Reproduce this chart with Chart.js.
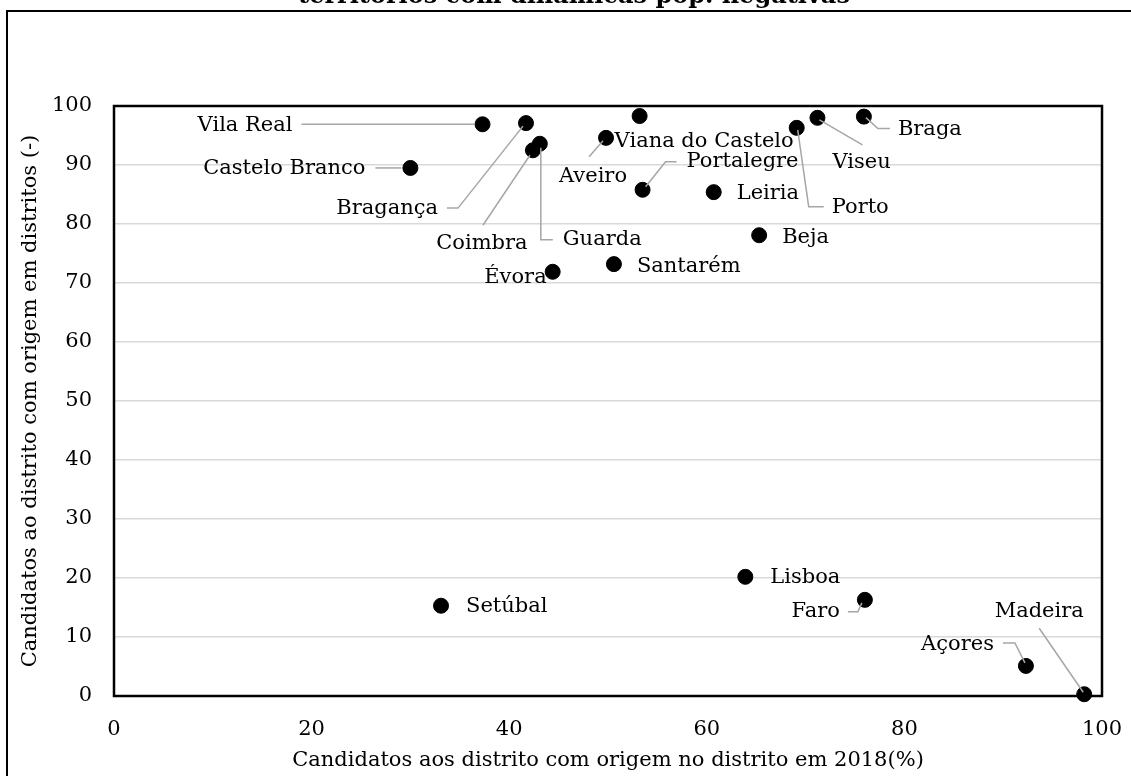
<!DOCTYPE html>
<html>
<head>
<meta charset="utf-8">
<script src="https://cdn.jsdelivr.net/npm/chart.js@4.4.1/dist/chart.umd.min.js"></script>
<style>
  html, body { margin: 0; padding: 0; background: #ffffff; }
  #wrap { position: relative; width: 1131px; height: 776px; }
</style>
</head>
<body>
<div id="wrap"><canvas id="c" width="1131" height="776"></canvas></div>
<script>
// Districts and their two shares (%)
const districts = ['Vila Real', 'Bragança', 'Coimbra', 'Guarda', 'Castelo Branco', 'Évora', 'Santarém',
  'Aveiro', 'Viana do Castelo', 'Portalegre', 'Leiria', 'Beja', 'Porto', 'Viseu', 'Braga',
  'Lisboa', 'Setúbal', 'Faro', 'Açores', 'Madeira'];
const originShare2018 = [37.3, 41.7, 42.4, 43.1, 30.0, 44.4, 50.6,
  49.8, 53.2, 53.5, 60.7, 65.3, 69.1, 71.2, 75.9,
  63.9, 33.1, 76.0, 92.3, 98.2];
const districtShare = [96.9, 97.1, 92.5, 93.6, 89.5, 71.9, 73.2,
  94.6, 98.3, 85.8, 85.4, 78.1, 96.3, 98.0, 98.2,
  20.2, 15.3, 16.3, 5.1, 0.3];
const xTicks = [0, 20, 40, 60, 80, 100];
const yTicks = [0, 10, 20, 30, 40, 50, 60, 70, 80, 90, 100];

const titleText = 'territórios com dinâmicas pop. negativas';
const xTitle = 'Candidatos aos distrito com origem no distrito em 2018(%)';
const yTitle = 'Candidatos ao distrito com origem em distritos (-)';

const FONT = '"DejaVu Serif", Georgia, serif';

// Label placement for each district: text offset from the marker (px),
// text alignment, and an optional leader polyline (offsets from the marker).
const labelLayout = {
  'Vila Real':        { dx: -190, dy: 1,   align: 'right',  leader: [[-181, 0], [-8, 0]] },
  'Castelo Branco':   { dx: -45,  dy: 1,   align: 'right',  leader: [[-35, 0], [-9, 0]] },
  'Bragança':         { dx: -88,  dy: 85,  align: 'right',  leader: [[-79, 85], [-68, 85], [-3, 3]] },
  'Coimbra':          { dx: -51,  dy: 93,  align: 'center', leader: [[-50, 75], [-3, 5]] },
  'Guarda':           { dx: 23,   dy: 96,  align: 'left',   leader: [[13, 96], [1, 96], [1, 4]] },
  'Évora':            { dx: -6,   dy: 6,   align: 'right' },
  'Santarém':         { dx: 23,   dy: 2,   align: 'left' },
  'Aveiro':           { dx: -13,  dy: 39,  align: 'center', leader: [[-17, 19], [-3, 3]] },
  'Viana do Castelo': { dx: -25,  dy: 26,  align: 'left' },
  'Portalegre':       { dx: 44,   dy: -28, align: 'left',   leader: [[34, -28], [23, -28], [3, -3]] },
  'Leiria':           { dx: 23,   dy: 1,   align: 'left' },
  'Beja':             { dx: 23,   dy: 2,   align: 'left' },
  'Porto':            { dx: 35,   dy: 80,  align: 'left',   leader: [[27, 79], [12, 79], [1, 2]] },
  'Viseu':            { dx: 15,   dy: 45,  align: 'left',   leader: [[45, 27], [2, 2]] },
  'Braga':            { dx: 34,   dy: 13,  align: 'left',   leader: [[26, 12], [14, 12], [2, 1]] },
  'Lisboa':           { dx: 25,   dy: 1,   align: 'left' },
  'Setúbal':          { dx: 25,   dy: 1,   align: 'left' },
  'Faro':             { dx: -25,  dy: 12,  align: 'right',  leader: [[-17, 12], [-7, 12], [-3, 3]] },
  'Açores':           { dx: -32,  dy: -21, align: 'right',  leader: [[-23, -23], [-11, -23], [-1, -3]] },
  'Madeira':          { dx: -45,  dy: -83, align: 'center', leader: [[-45, -66], [-1, -2]] }
};

const points = originShare2018.map((x, i) => ({ x: x, y: districtShare[i] }));

// Outer frame, clipped title and the plot-area box
const framePlugin = {
  id: 'frame',
  beforeDraw(chart) {
    const ctx = chart.ctx;
    ctx.save();
    ctx.fillStyle = '#ffffff';
    ctx.fillRect(0, 0, chart.width, chart.height);
    ctx.strokeStyle = '#000000';
    ctx.lineWidth = 2;
    ctx.strokeRect(7, 11, chart.width + 20, chart.height + 20);
    ctx.fillStyle = '#000000';
    ctx.font = 'bold 24px ' + FONT;
    ctx.textAlign = 'center';
    ctx.textBaseline = 'alphabetic';
    ctx.fillText(titleText, 574, 3);
    ctx.restore();
  },
  beforeDatasetsDraw(chart) {
    const a = chart.chartArea;
    const ctx = chart.ctx;
    ctx.save();
    ctx.strokeStyle = '#000000';
    ctx.lineWidth = 2.5;
    ctx.strokeRect(a.left, a.top, a.right - a.left, a.bottom - a.top);
    ctx.restore();
  }
};

// District names beside the markers, with grey leader lines
const labelPlugin = {
  id: 'districtLabels',
  afterDatasetsDraw(chart) {
    const ctx = chart.ctx;
    const meta = chart.getDatasetMeta(0);
    ctx.save();
    meta.data.forEach((el, i) => {
      const name = districts[i];
      const L = labelLayout[name];
      if (!L) return;
      const px = el.x, py = el.y;
      if (L.leader) {
        ctx.beginPath();
        ctx.strokeStyle = '#a6a6a6';
        ctx.lineWidth = 1.5;
        L.leader.forEach((p, k) => {
          if (k === 0) ctx.moveTo(px + p[0], py + p[1]);
          else ctx.lineTo(px + p[0], py + p[1]);
        });
        ctx.stroke();
      }
      ctx.fillStyle = '#000000';
      ctx.font = '21px ' + FONT;
      ctx.textAlign = L.align;
      ctx.textBaseline = 'middle';
      ctx.fillText(name, px + L.dx, py + L.dy);
    });
    ctx.restore();
  }
};

new Chart(document.getElementById('c'), {
  type: 'scatter',
  data: {
    datasets: [{
      data: points,
      backgroundColor: '#000000',
      borderColor: '#000000',
      pointRadius: 7.5,
      pointHoverRadius: 7.5,
      clip: false
    }]
  },
  options: {
    responsive: false,
    animation: false,
    events: [],
    layout: { padding: { left: 0, right: 29, top: 106, bottom: 0 } },
    plugins: { legend: { display: false }, tooltip: { enabled: false }, title: { display: false } },
    scales: {
      x: {
        type: 'linear', min: 0, max: 100,
        afterBuildTicks(scale) { scale.ticks = xTicks.map(v => ({ value: v })); },
        afterFit(scale) { scale.height = 80; scale.paddingLeft = 0; scale.paddingRight = 0; },
        border: { display: false },
        grid: { display: false, drawTicks: false },
        ticks: { color: '#000000', font: { family: FONT, size: 21 }, padding: 21, maxRotation: 0 },
        title: { display: true, text: xTitle, color: '#000000', font: { family: FONT, size: 21 }, padding: { top: 0, bottom: 3 } }
      },
      y: {
        type: 'linear', min: 0, max: 100,
        afterBuildTicks(scale) { scale.ticks = yTicks.map(v => ({ value: v })); },
        afterFit(scale) { scale.width = 114; scale.paddingTop = 0; scale.paddingBottom = 0; },
        border: { display: false },
        grid: {
          drawTicks: false,
          lineWidth: 1.5,
          color: ctx => (ctx.tick && (ctx.tick.value === 0 || ctx.tick.value === 100)) ? 'rgba(0,0,0,0)' : '#d9d9d9'
        },
        ticks: { color: '#000000', font: { family: FONT, size: 21 }, padding: 22 },
        title: { display: true, text: yTitle, color: '#000000', font: { family: FONT, size: 21 }, padding: { top: 18, bottom: 0 } }
      }
    }
  },
  plugins: [framePlugin, labelPlugin]
});
</script>
</body>
</html>
